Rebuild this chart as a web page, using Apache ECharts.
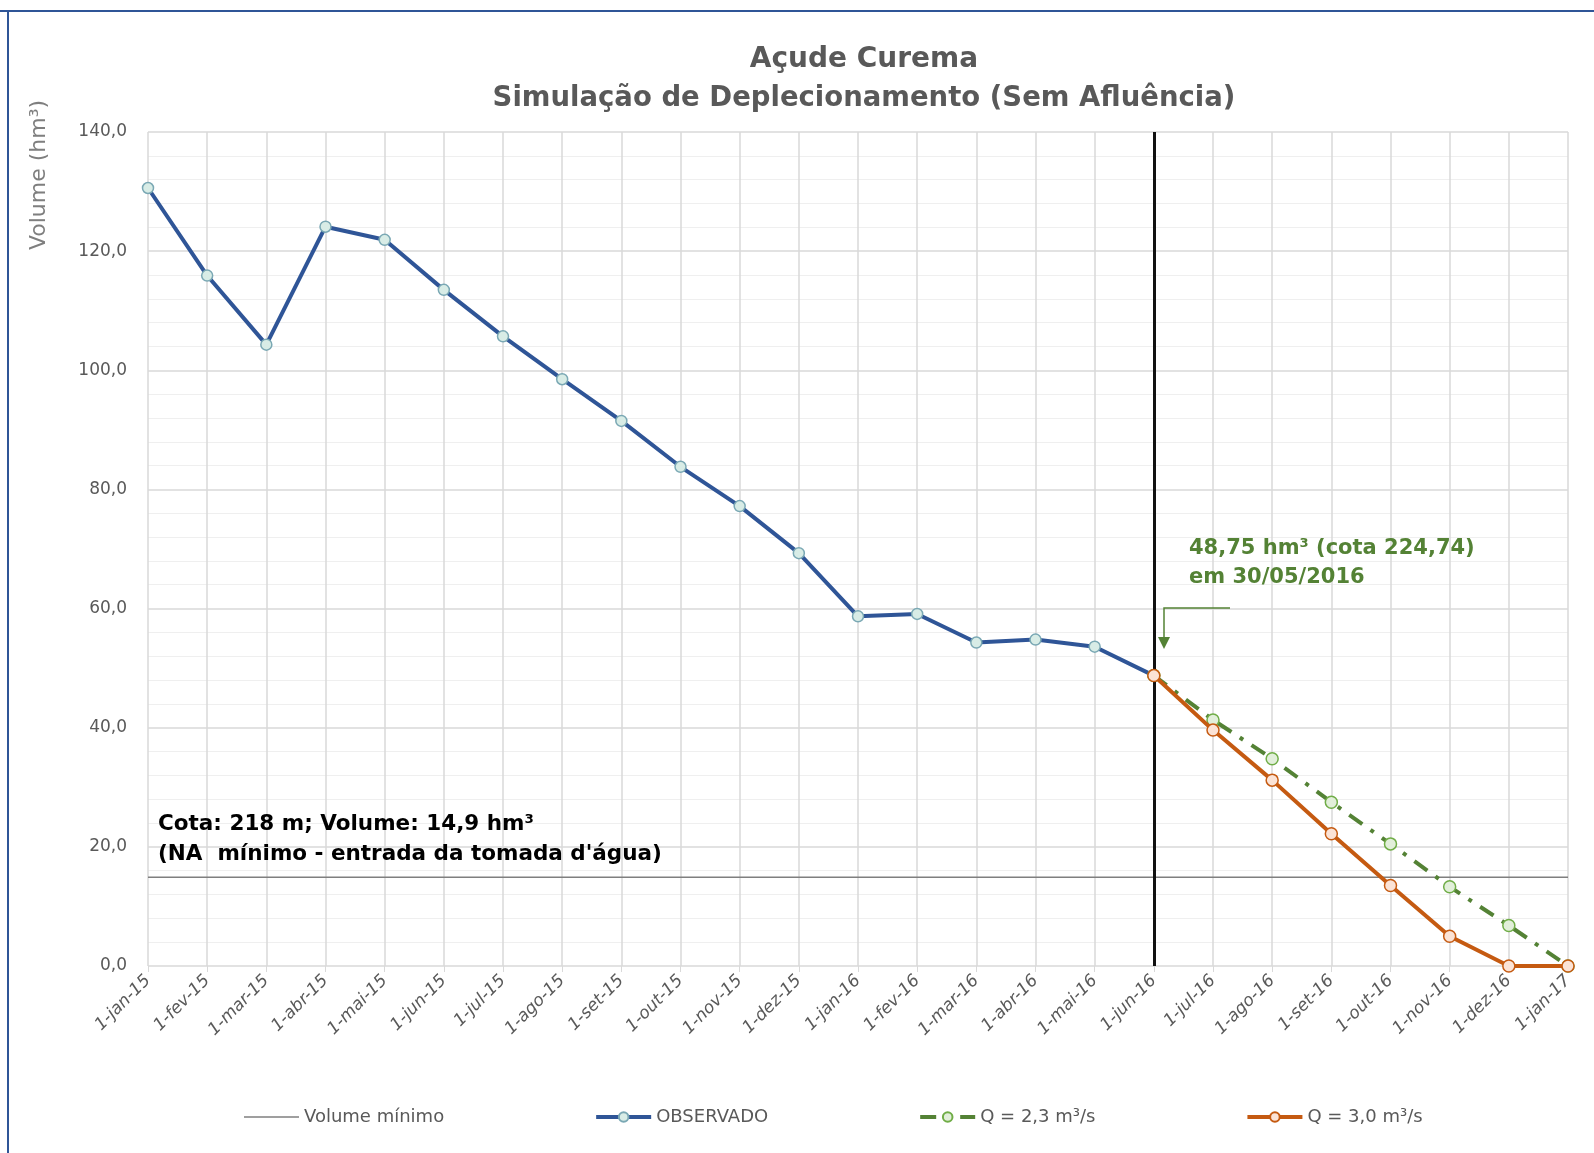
<!DOCTYPE html>
<html>
<head>
<meta charset="utf-8">
<script src="https://cdn.jsdelivr.net/npm/echarts@6/dist/echarts.min.js"></script>
<style>
  html, body { margin: 0; padding: 0; background: #fff; }
  #chart { width: 1594px; height: 1153px; }
</style>
</head>
<body>
<div id="chart"></div>
<script>
// months on the x axis
const months = [
  '1-jan-15', '1-fev-15', '1-mar-15', '1-abr-15', '1-mai-15', '1-jun-15', '1-jul-15',
  '1-ago-15', '1-set-15', '1-out-15', '1-nov-15', '1-dez-15', '1-jan-16', '1-fev-16',
  '1-mar-16', '1-abr-16', '1-mai-16', '1-jun-16', '1-jul-16', '1-ago-16', '1-set-16',
  '1-out-16', '1-nov-16', '1-dez-16', '1-jan-17'
];

const volumeMinimo = months.map(() => 14.9);

const observado = [
  130.6, 115.9, 104.3, 124.1, 121.9, 113.5, 105.7, 98.5, 91.5, 83.8, 77.2, 69.3,
  58.7, 59.1, 54.3, 54.8, 53.6, 48.75,
  null, null, null, null, null, null, null
];

const q23 = [
  null, null, null, null, null, null, null, null, null, null, null, null,
  null, null, null, null, null,
  48.75, 41.3, 34.8, 27.5, 20.5, 13.3, 6.8, 0
];

const q30 = [
  null, null, null, null, null, null, null, null, null, null, null, null,
  null, null, null, null, null,
  48.75, 39.6, 31.2, 22.2, 13.5, 5.0, 0, 0
];

const cutMonth = '1-jun-16';

const FONT = '"DejaVu Sans", sans-serif';
const GRAY = '#595959';
const GREEN = '#548235';
const dashDot = [16, 10, 4, 10];

const chart = echarts.init(document.getElementById('chart'));

function txt(extra) {
  return Object.assign({ fontFamily: FONT }, extra);
}

const option = {
  backgroundColor: '#fff',
  animation: false,
  textStyle: { fontFamily: FONT },
  grid: { left: 148, right: 26, top: 132, bottom: 187 },
  legend: {
    bottom: 22,
    left: 239,
    itemWidth: 55,
    itemHeight: 12,
    itemGap: 150,
    textStyle: { color: GRAY, fontSize: 18, fontFamily: FONT },
    data: [
      { name: 'Volume mínimo', icon: 'path://M0,0 H55 V1.6 H0 Z', itemStyle: { color: '#7f7f7f' } },
      { name: 'OBSERVADO', lineStyle: { width: 4 } },
      { name: 'Q = 2,3 m³/s', lineStyle: { width: 4, type: dashDot } },
      { name: 'Q = 3,0 m³/s', lineStyle: { width: 4 } }
    ]
  },
  xAxis: {
    type: 'category',
    data: months,
    boundaryGap: false,
    axisLine: { show: false },
    axisTick: { show: true, length: 6, lineStyle: { color: '#d9d9d9' } },
    axisLabel: {
      rotate: 45,
      color: GRAY,
      fontSize: 17,
      fontStyle: 'italic',
      margin: 12,
      interval: 0
    },
    splitLine: { show: true, lineStyle: { color: '#d9d9d9', width: 1.5 } }
  },
  yAxis: {
    type: 'value',
    min: 0,
    max: 140,
    interval: 20,
    axisLine: { show: false },
    axisTick: { show: false },
    axisLabel: {
      color: GRAY,
      fontSize: 17,
      margin: 21,
      formatter: v => v.toFixed(1).replace('.', ',')
    },
    splitLine: { lineStyle: { color: '#d9d9d9', width: 1.5 } },
    minorTick: { show: false, splitNumber: 5 },
    minorSplitLine: { show: true, lineStyle: { color: '#efefef', width: 1 } }
  },
  series: [
    {
      name: 'Volume mínimo',
      type: 'line',
      data: volumeMinimo,
      symbol: 'none',
      lineStyle: { color: '#7f7f7f', width: 1.5 },
      itemStyle: { color: '#7f7f7f' },
      z: 1
    },
    {
      name: 'OBSERVADO',
      type: 'line',
      data: observado,
      symbol: 'circle',
      symbolSize: 11,
      lineStyle: { color: '#2f5597', width: 4 },
      itemStyle: { color: '#d8ece6', borderColor: '#7aa8b4', borderWidth: 1.5 },
      markLine: {
        silent: true,
        symbol: 'none',
        label: { show: false },
        lineStyle: { color: '#111', width: 3, type: 'solid' },
        data: [{ xAxis: cutMonth }]
      },
      z: 3
    },
    {
      name: 'Q = 2,3 m³/s',
      type: 'line',
      data: q23,
      symbol: 'circle',
      symbolSize: 12,
      lineStyle: { color: GREEN, width: 4, type: dashDot },
      itemStyle: { color: '#e2efda', borderColor: '#70ad47', borderWidth: 1.5 },
      z: 4
    },
    {
      name: 'Q = 3,0 m³/s',
      type: 'line',
      data: q30,
      symbol: 'circle',
      symbolSize: 12,
      lineStyle: { color: '#c55a11', width: 4 },
      itemStyle: { color: '#fbe3d6', borderColor: '#c55a11', borderWidth: 1.5 },
      z: 5
    }
  ],
  graphic: [
    // frame lines
    { type: 'line', shape: { x1: 0, y1: 11, x2: 1594, y2: 11 }, style: { stroke: '#2f5597', lineWidth: 2 } },
    { type: 'line', shape: { x1: 8, y1: 11, x2: 8, y2: 1153 }, style: { stroke: '#2f5597', lineWidth: 2 } },
    // title
    {
      type: 'text', x: 864, y: 60, z: 100,
      style: txt({ text: 'Açude Curema', fill: GRAY, fontSize: 28, fontWeight: 'bold', align: 'center', verticalAlign: 'middle' })
    },
    {
      type: 'text', x: 864, y: 99, z: 100,
      style: txt({ text: 'Simulação de Deplecionamento (Sem Afluência)', fill: GRAY, fontSize: 27.5, fontWeight: 'bold', align: 'center', verticalAlign: 'middle' })
    },
    // y axis name
    {
      type: 'text', x: 39, y: 175, rotation: Math.PI / 2, z: 100,
      style: txt({ text: 'Volume (hm³)', fill: '#7f7f7f', fontSize: 22, align: 'center', verticalAlign: 'middle' })
    },
    // green annotation
    {
      type: 'text', x: 1189, y: 549, z: 100,
      style: txt({ text: '48,75 hm³ (cota 224,74)', fill: GREEN, fontSize: 21, fontWeight: 'bold', verticalAlign: 'middle' })
    },
    {
      type: 'text', x: 1189, y: 578, z: 100,
      style: txt({ text: 'em 30/05/2016', fill: GREEN, fontSize: 21, fontWeight: 'bold', verticalAlign: 'middle' })
    },
    { type: 'polyline', z: 100, shape: { points: [[1230, 608], [1164, 608], [1164, 638]] }, style: { stroke: GREEN, lineWidth: 1.5, fill: null } },
    { type: 'polygon', z: 100, shape: { points: [[1158, 637], [1170, 637], [1164, 649]] }, style: { fill: GREEN } },
    // minimum volume annotation
    {
      type: 'text', x: 158, y: 824, z: 100,
      style: txt({ text: 'Cota: 218 m; Volume: 14,9 hm³', fill: '#000', fontSize: 21.5, fontWeight: 'bold', verticalAlign: 'middle' })
    },
    {
      type: 'text', x: 158, y: 854, z: 100,
      style: txt({ text: '(NA  mínimo - entrada da tomada d\'água)', fill: '#000', fontSize: 21.5, fontWeight: 'bold', verticalAlign: 'middle' })
    }
  ]
};

chart.setOption(option);
</script>
</body>
</html>
